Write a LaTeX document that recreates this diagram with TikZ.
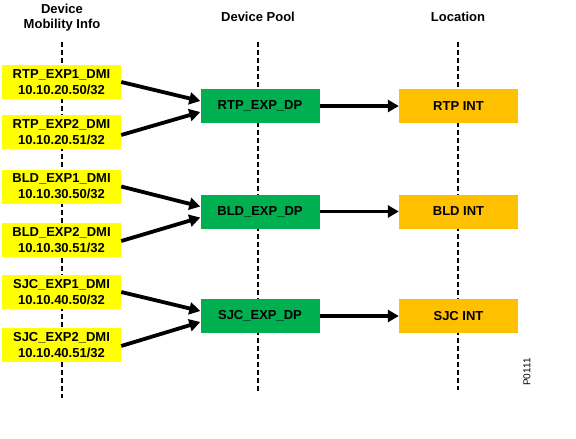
\documentclass[tikz,border=0pt]{standalone}
\usepackage{fontspec}
\setmainfont{Liberation Sans}
\usetikzlibrary{arrows.meta}
\definecolor{dmiyellow}{HTML}{FFFF00}
\definecolor{dpgreen}{HTML}{00B050}
\definecolor{locorange}{HTML}{FFC000}
\begin{document}
\begin{tikzpicture}[x=1pt,y=-1pt,
  lbl/.style={font=\fontsize{13}{15}\selectfont\bfseries, align=center, inner sep=0pt},
  dmibox/.style={fill=dmiyellow, minimum width=119pt, minimum height=34pt, inner sep=0pt, align=center, font=\fontsize{13}{16}\selectfont\bfseries},
  dpbox/.style={fill=dpgreen, minimum width=119pt, minimum height=34pt, inner sep=0pt, font=\fontsize{13}{16}\selectfont\bfseries},
  locbox/.style={fill=locorange, minimum width=119pt, minimum height=34pt, inner sep=0pt, font=\fontsize{13}{16}\selectfont\bfseries},
  guide/.style={dash pattern=on 5pt off 3pt, line width=1.4pt},
  conn/.style={line width=3.8pt, -{Triangle[length=11pt,width=12pt]}}
]
\useasboundingbox (0,0) rectangle (576,439);
% headers
\node[lbl] (h1) at (62,17.5) {Device\\Mobility Info};
\node[lbl] (h2) at (258,17) {Device Pool};
\node[lbl] (h3) at (458,17) {Location};
% guide lines
\coordinate (g1t) at (62,42); \coordinate (g1b) at (62,398);
\coordinate (g2t) at (258,42); \coordinate (g2b) at (258,393);
\coordinate (g3t) at (458,42); \coordinate (g3b) at (458,390);
\draw[guide] (g1t) -- (g1b);
\draw[guide] (g2t) -- (g2b);
\draw[guide] (g3t) -- (g3b);
% DMI boxes
\node[dmibox] (r1) at (61.5,82) {RTP\_EXP1\_DMI\\10.10.20.50/32};
\node[dmibox] (r2) at (61.5,132) {RTP\_EXP2\_DMI\\10.10.20.51/32};
\node[dmibox] (b1) at (61.5,186.5) {BLD\_EXP1\_DMI\\10.10.30.50/32};
\node[dmibox] (b2) at (61.5,240) {BLD\_EXP2\_DMI\\10.10.30.51/32};
\node[dmibox] (s1) at (61.5,292) {SJC\_EXP1\_DMI\\10.10.40.50/32};
\node[dmibox] (s2) at (61.5,345) {SJC\_EXP2\_DMI\\10.10.40.51/32};
% device pools
\node[dpbox] (rp) at (260,106) {RTP\_EXP\_DP};
\node[dpbox] (bp) at (260,211.5) {BLD\_EXP\_DP};
\node[dpbox] (sp) at (260,316) {SJC\_EXP\_DP};
% locations
\node[locbox] (rl) at (458.5,106) {RTP INT};
\node[locbox] (bl) at (458.5,211.5) {BLD INT};
\node[locbox] (sl) at (458.5,316) {SJC INT};
% connectors
\draw[conn] (r1.east) -- ([yshift=5pt]rp.west);
\draw[conn] ([yshift=-3pt]r2.east) -- ([yshift=-6pt]rp.west);
\draw[conn] (b1.east) -- ([yshift=5pt]bp.west);
\draw[conn] ([yshift=-1pt]b2.east) -- ([yshift=-6pt]bp.west);
\draw[conn] (s1.east) -- ([yshift=5pt]sp.west);
\draw[conn] ([yshift=-1pt]s2.east) -- ([yshift=-6pt]sp.west);
\draw[conn] (rp.east) -- (rl.west);
\draw[conn] (bp.east) -- (bl.west);
\draw[conn] (sp.east) -- (sl.west);
% figure id
\node[font=\fontsize{10}{12}\selectfont, rotate=90, inner sep=0pt] (fid) at (527,372) {P0111};
\end{tikzpicture}
\end{document}
